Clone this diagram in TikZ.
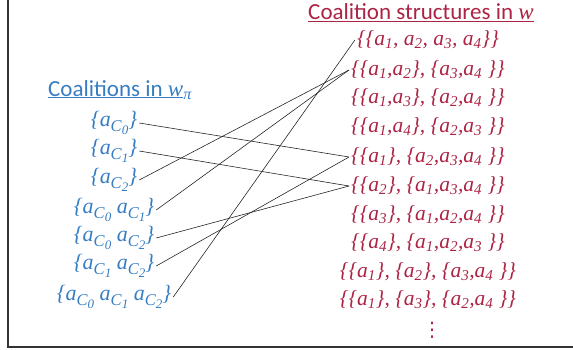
\documentclass[tikz,border=0pt]{standalone}
\usepackage{fontspec}
\setmainfont{Carlito}
\newfontfamily\setfont{Liberation Serif}
\newfontfamily\symfont{DejaVu Sans}
\usepackage{tikz}
\usetikzlibrary{positioning}
\definecolor{coalblue}{RGB}{55,125,195}
\definecolor{structred}{RGB}{172,35,68}
% agent with subscript, coalition agent with nested subscript
\newcommand{\ag}[1]{a\textsubscript{#1}}
\newcommand{\cag}[1]{a\raisebox{-0.45ex}{\fontsize{16.5}{17}\selectfont C\raisebox{-0.4ex}{\fontsize{13}{13}\selectfont #1}}}
\tikzset{
    titlelabel/.style={
        inner sep=1pt,
        font=\fontsize{23}{26}\selectfont
    },
    coalbox/.style={
        inner sep=2pt,
        text=coalblue,
        font=\fontsize{22}{25}\setfont\itshape
    },
    structbox/.style={
        inner sep=2pt,
        text=structred,
        font=\fontsize{21.5}{24}\setfont\itshape
    },
    link/.style={
        line width=0.6pt,
        draw=black!85
    }
}

\begin{document}
\begin{tikzpicture}[x=1pt, y=-1pt]
    % Frame
    \useasboundingbox (0,0) rectangle (573,350);
    \draw[line width=2pt, draw=black!80] (8,0) -- (8,347) -- (573,347);

    % Left column: coalitions
    \node[titlelabel, text=coalblue] (lefttitle) at (120,90)
        {\underline{Coalitions in {\setfont\itshape w}}{\setfont\itshape\textsubscript{π}}};
    \node[coalbox] (c0)   at (114,123) {\{\cag{0}\}};
    \node[coalbox] (c1)   at (114,151) {\{\cag{1}\}};
    \node[coalbox] (c2)   at (114,180) {\{\cag{2}\}};
    \node[coalbox] (c01)  at (114,210) {\{\cag{0} \cag{1}\}};
    \node[coalbox] (c02)  at (114,238) {\{\cag{0} \cag{2}\}};
    \node[coalbox] (c12)  at (114,266) {\{\cag{1} \cag{2}\}};
    \node[coalbox] (c012) at (114,297) {\{\cag{0} \cag{1} \cag{2}\}};

    % Right column: coalition structures
    \node[titlelabel, text=structred] (righttitle) at (421,13)
        {\underline{Coalition structures in {\setfont\itshape w}}};
    \node[structbox] (s1)  at (428,40)  {\{\{\ag{1}, \ag{2}, \ag{3}, \ag{4}\}\}};
    \node[structbox] (s2)  at (428,70)  {\{\{\ag{1},\ag{2}\}, \{\ag{3},\ag{4} \}\}};
    \node[structbox] (s3)  at (428,98)  {\{\{\ag{1},\ag{3}\}, \{\ag{2},\ag{4} \}\}};
    \node[structbox] (s4)  at (428,127) {\{\{\ag{1},\ag{4}\}, \{\ag{2},\ag{3} \}\}};
    \node[structbox] (s5)  at (428,157) {\{\{\ag{1}\}, \{\ag{2},\ag{3},\ag{4} \}\}};
    \node[structbox] (s6)  at (428,186) {\{\{\ag{2}\}, \{\ag{1},\ag{3},\ag{4} \}\}};
    \node[structbox] (s7)  at (428,215) {\{\{\ag{3}\}, \{\ag{1},\ag{2},\ag{4} \}\}};
    \node[structbox] (s8)  at (428,243) {\{\{\ag{4}\}, \{\ag{1},\ag{2},\ag{3} \}\}};
    \node[structbox] (s9)  at (428,272) {\{\{\ag{1}\}, \{\ag{2}\}, \{\ag{3},\ag{4} \}\}};
    \node[structbox] (s10) at (428,300) {\{\{\ag{1}\}, \{\ag{3}\}, \{\ag{2},\ag{4} \}\}};
    \node[structbox, inner sep=0pt, font=\fontsize{20}{22}\symfont] (sdots) at (432,330) {⋮};

    % Mapping between coalitions and structures
    \draw[link] (c0.east)   -- (s5.west);
    \draw[link] (c1.east)   -- (s6.west);
    \draw[link] (c2.east)   -- (s2.west);
    \draw[link] (c01.east)  -- (s2.west);
    \draw[link] (c02.east)  -- (s6.west);
    \draw[link] (c12.east)  -- (s5.west);
    \draw[link] (c012.east) -- (s1.west);
\end{tikzpicture}
\end{document}
